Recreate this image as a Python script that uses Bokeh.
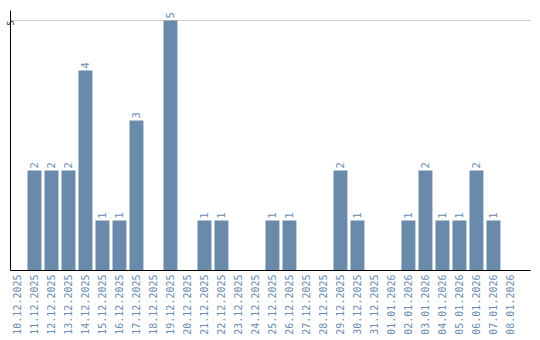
import math
from bokeh.plotting import figure
from bokeh.models import Range1d, FixedTicker, ColumnDataSource
from bokeh.core.properties import value
from bokeh.embed import file_html
from bokeh.resources import INLINE

dates = ["10.12.2025", "11.12.2025", "12.12.2025", "13.12.2025", "14.12.2025",
         "15.12.2025", "16.12.2025", "17.12.2025", "18.12.2025", "19.12.2025",
         "20.12.2025", "21.12.2025", "22.12.2025", "23.12.2025", "24.12.2025",
         "25.12.2025", "26.12.2025", "27.12.2025", "28.12.2025", "29.12.2025",
         "30.12.2025", "31.12.2025", "01.01.2026", "02.01.2026", "03.01.2026",
         "04.01.2026", "05.01.2026", "06.01.2026", "07.01.2026", "08.01.2026"]
counts = [0, 2, 2, 2, 4, 1, 1, 3, 0, 5,
          0, 1, 1, 0, 0, 1, 1, 0, 0, 2,
          1, 0, 0, 1, 2, 1, 1, 2, 1, 0]
y_ticks = [5]

BAR = "#6a8aab"
LABEL = "#6a8caf"

idx = list(range(len(dates)))
src = ColumnDataSource(dict(x=idx, top=counts))
lab = ColumnDataSource(dict(
    x=[i for i, c in zip(idx, counts) if c > 0],
    y=[c for c in counts if c > 0],
    t=[str(c) for c in counts if c > 0],
))

p = figure(width=540, height=340, output_backend="svg", toolbar_location=None,
           x_range=Range1d(-0.41, 30.18), y_range=Range1d(0, 5.2),
           min_border_left=10, min_border_right=10, min_border_top=10,
           min_border_bottom=70, outline_line_color=None)
p.background_fill_color = "white"
p.border_fill_color = "white"

p.vbar(x="x", top="top", width=0.82, source=src, fill_color=BAR, line_color=None)
p.text(x="x", y="y", text="t", source=lab, angle=math.pi / 2, y_offset=-2,
       text_align="left", text_baseline="middle", text_color=LABEL,
       text_font=value("DejaVu Sans"), text_font_size="10px")

p.xgrid.visible = False
p.ygrid.ticker = FixedTicker(ticks=y_ticks)
p.ygrid.grid_line_color = "#cccccc"
p.ygrid.grid_line_width = 1

xa = p.xaxis[0]
xa.ticker = FixedTicker(ticks=idx)
xa.major_label_overrides = {i: d for i, d in zip(idx, dates)}
xa.major_label_orientation = math.pi / 2
xa.major_label_text_font = "DejaVu Sans Mono"
xa.major_label_text_font_size = "10px"
xa.major_label_text_color = LABEL
xa.major_tick_line_color = None
xa.major_tick_out = 0
xa.major_tick_in = 0
xa.minor_tick_line_color = None
xa.minor_tick_out = 0
xa.major_label_standoff = 4
xa.axis_line_color = "black"

ya = p.yaxis[0]
ya.ticker = FixedTicker(ticks=y_ticks)
ya.major_label_orientation = math.pi / 2
ya.major_label_text_font = "DejaVu Sans"
ya.major_label_text_font_size = "8px"
ya.major_label_text_color = "#333333"
ya.major_tick_line_color = None
ya.major_tick_out = 0
ya.major_tick_in = 0
ya.minor_tick_line_color = None
ya.minor_tick_out = 0
ya.major_label_standoff = 0
ya.axis_line_color = "black"

open("out.html", "w").write(file_html(p, INLINE))
